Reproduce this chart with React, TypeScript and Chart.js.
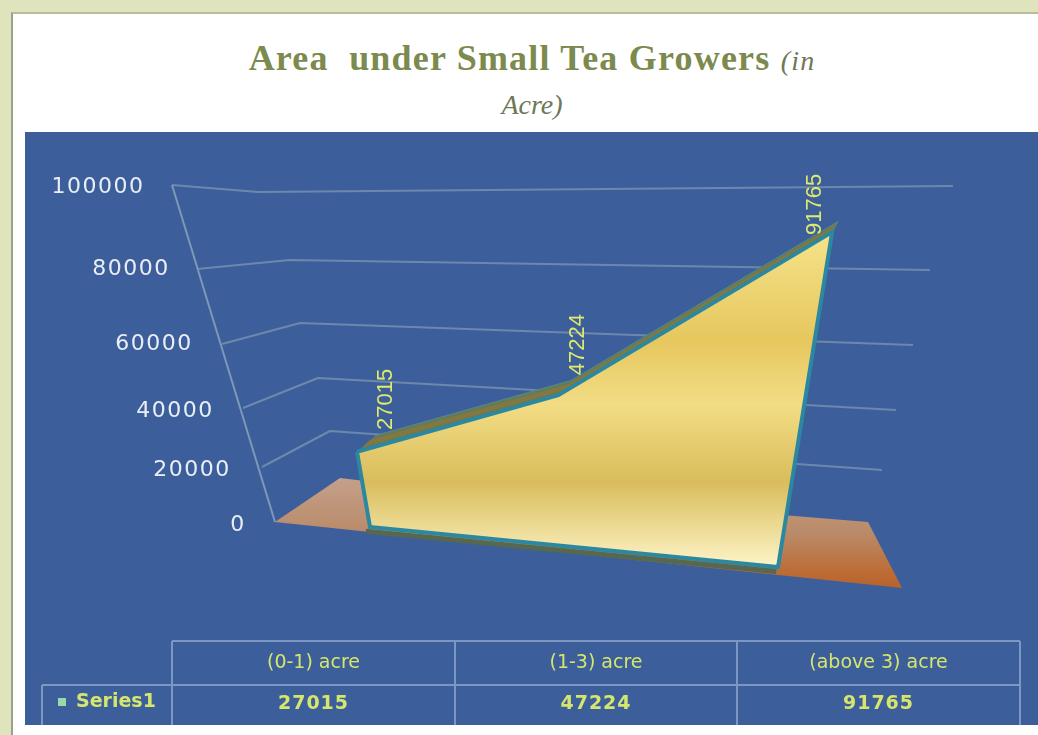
import React, { useEffect, useRef } from "react";
import { Chart, registerables } from "chart.js";

Chart.register(...registerables);

// ---- data ----
const categories = ["(0-1) acre", "(1-3) acre", "(above 3) acre"];
const seriesName = "Series1";
const seriesValues = [27015, 47224, 91765];
const yMax = 100000;
const yStep = 20000;

// ---- layout of the painted 3-D frame ----
const quad = { bl: [370, 527], br: [778, 567], tl: [322, 249], tr: [837, 202] };
const uWarp = 1.12;
const vanish = [1068, -190];
const depthK = 0.0253;
const frameByTick: Record<number, { label: [number, number]; line: number[][] }> = {
  0: { label: [238, 525], line: [[275, 522], [340, 478], [870, 524]] },
  20000: { label: [192, 470], line: [[262, 467], [330, 431], [882, 470]] },
  40000: { label: [175, 411], line: [[243, 408], [318, 378], [896, 410]] },
  60000: { label: [154, 344], line: [[222, 344], [300, 323], [913, 345]] },
  80000: { label: [131, 269], line: [[197, 269], [290, 260], [930, 270]] },
  100000: { label: [98, 187], line: [[172, 185], [258, 192], [953, 186]] },
};
const floorPoly = [[275, 522], [340, 478], [365, 481], [868, 522], [902, 588]];
const labelOffsets = [[29, -22], [20, -20], [-17, 3]];
const tableRows = [641, 685, 725];
const tableCols = [172, 455, 737, 1020];

const yellow = "#dfe96c";

type Pt = { x: string; y: number };
const topRun: Pt[] = categories.map((c, i) => ({ x: c, y: seriesValues[i] }));
const frontData: Pt[] = [
  ...topRun,
  { x: categories[2], y: 0 },
  { x: categories[0], y: 0 },
  topRun[0],
];
const stripData: Pt[] = [...topRun, ...[...topRun].reverse()];
const baseData: Pt[] = [{ x: categories[0], y: 0 }, { x: categories[2], y: 0 }];

const project = (u: number, v: number, z: number) => {
  const w = Math.pow(u, uWarp);
  const bx = quad.bl[0] + (quad.br[0] - quad.bl[0]) * w;
  const by = quad.bl[1] + (quad.br[1] - quad.bl[1]) * w;
  const tx = quad.tl[0] + (quad.tr[0] - quad.tl[0]) * w;
  const ty = quad.tl[1] + (quad.tr[1] - quad.tl[1]) * w;
  const x = bx + (tx - bx) * v;
  const y = by + (ty - by) * v;
  return { x: x + (vanish[0] - x) * z, y: y + (vanish[1] - y) * z };
};

const perspective = {
  id: "perspective",
  afterDatasetsUpdate(chart: any) {
    const xs = chart.scales.x;
    const ys = chart.scales.y;
    chart.data.datasets.forEach((ds: any, i: number) => {
      const meta = chart.getDatasetMeta(i);
      meta.data.forEach((el: any, j: number) => {
        const u = (el.x - xs.left) / xs.width;
        const v = (ys.bottom - el.y) / ys.height;
        const p = project(u, v, ds.depths ? ds.depths[j] : 0);
        el.x = p.x;
        el.y = p.y;
      });
    });
  },
};

const frame = {
  id: "frame",
  beforeDatasetsDraw(chart: any) {
    const ctx = chart.ctx;
    ctx.save();
    ctx.fillStyle = "#3c5f9b";
    ctx.fillRect(25, 132, 1013, 593);
    const ticks = chart.scales.y.ticks;
    ctx.lineWidth = 2;
    ctx.lineJoin = "round";
    ctx.strokeStyle = "#6d88ad";
    ticks.forEach((t: any) => {
      const f = frameByTick[t.value];
      if (!f || t.value === 0) return;
      ctx.beginPath();
      f.line.forEach((p, i) => (i ? ctx.lineTo(p[0], p[1]) : ctx.moveTo(p[0], p[1])));
      ctx.stroke();
    });
    const a = frameByTick[yMax].line[0];
    const b = frameByTick[0].line[0];
    ctx.strokeStyle = "#7f97b8";
    ctx.beginPath();
    ctx.moveTo(a[0], a[1]);
    ctx.lineTo(b[0], b[1]);
    ctx.stroke();

    const g = ctx.createLinearGradient(0, 478, 0, 590);
    g.addColorStop(0, "#c4a08a");
    g.addColorStop(0.5, "#b98a68");
    g.addColorStop(0.85, "#bd6b34");
    g.addColorStop(1, "#b5612c");
    ctx.fillStyle = g;
    ctx.beginPath();
    floorPoly.forEach((p, i) => (i ? ctx.lineTo(p[0], p[1]) : ctx.moveTo(p[0], p[1])));
    ctx.closePath();
    ctx.fill();
    ctx.restore();
  },
  afterDraw(chart: any) {
    const ctx = chart.ctx;
    ctx.save();
    ctx.textBaseline = "middle";
    // value axis labels
    ctx.font = '22px "DejaVu Sans"';
    ctx.letterSpacing = "1.5px";
    ctx.fillStyle = "#e9edf5";
    ctx.textAlign = "center";
    chart.scales.y.ticks.forEach((t: any) => {
      const f = frameByTick[t.value];
      if (f) ctx.fillText(t.label, f.label[0], f.label[1]);
    });
    ctx.letterSpacing = "0px";
    // rotated data labels, anchored to the drawn points
    const pts = chart.getDatasetMeta(chart.data.datasets.length - 1).data;
    ctx.font = '22px "Liberation Sans"';
    ctx.fillStyle = yellow;
    ctx.textAlign = "left";
    seriesValues.forEach((v, i) => {
      ctx.save();
      ctx.translate(pts[i].x + labelOffsets[i][0], pts[i].y + labelOffsets[i][1]);
      ctx.rotate(-Math.PI / 2);
      ctx.fillText(String(v), 0, 0);
      ctx.restore();
    });
    // data table
    ctx.strokeStyle = "#7c98c2";
    ctx.lineWidth = 2;
    ctx.beginPath();
    tableRows.slice(0, 2).forEach((y, r) => {
      ctx.moveTo(r ? 42 : tableCols[0], y);
      ctx.lineTo(tableCols[3], y);
    });
    tableCols.forEach((x) => {
      ctx.moveTo(x, tableRows[0]);
      ctx.lineTo(x, tableRows[2]);
    });
    ctx.moveTo(42, tableRows[1]);
    ctx.lineTo(42, tableRows[2]);
    ctx.stroke();
    ctx.fillStyle = "#d6e66c";
    ctx.textAlign = "center";
    categories.forEach((c, i) => {
      const cx = (tableCols[i] + tableCols[i + 1]) / 2;
      ctx.font = '19px "DejaVu Sans"';
      ctx.fillText(c, cx, (tableRows[0] + tableRows[1]) / 2);
      ctx.font = 'bold 19px "DejaVu Sans"';
      ctx.letterSpacing = "1px";
      ctx.fillText(String(seriesValues[i]), cx, (tableRows[1] + tableRows[2]) / 2 - 1);
      ctx.letterSpacing = "0px";
    });
    ctx.font = 'bold 19px "DejaVu Sans"';
    ctx.textAlign = "left";
    ctx.fillText(seriesName, 76, 702);
    ctx.fillStyle = "#9ad8a8";
    ctx.fillRect(58, 698, 8, 8);
    ctx.restore();
  },
};

export default function App() {
  const ref = useRef<HTMLCanvasElement>(null);
  useEffect(() => {
    document.body.style.margin = "0";
    const canvas = ref.current!;
    const ctx = canvas.getContext("2d")!;
    const gold = ctx.createLinearGradient(0, 228, 0, 567);
    gold.addColorStop(0, "#f6e48c");
    gold.addColorStop(0.33, "#e6c75e");
    gold.addColorStop(0.52, "#f2dc84");
    gold.addColorStop(0.75, "#d9bd5c");
    gold.addColorStop(1, "#fdf4c8");
    const chart = new Chart(canvas, {
      type: "line",
      plugins: [perspective, frame],
      data: {
        labels: categories,
        datasets: [
          {
            label: "top side",
            data: stripData,
            depths: [0, 0, 0, depthK, depthK, depthK],
            fill: "shape",
            backgroundColor: "#667a5a",
            borderColor: "#4f8a8a",
            borderWidth: 1,
            pointRadius: 0,
            order: 3,
            clip: false,
          },
          {
            label: "top side core",
            data: stripData,
            depths: [0.008, 0.008, 0.008, 0.018, 0.018, 0.018],
            fill: "shape",
            backgroundColor: "#84783f",
            borderWidth: 0,
            pointRadius: 0,
            order: 2,
            clip: false,
          },
          {
            label: "base edge",
            data: baseData,
            depths: [-0.006, -0.006],
            borderColor: "#56684f",
            borderWidth: 5,
            pointRadius: 0,
            fill: false,
            order: 1,
            clip: false,
          },
          {
            label: seriesName,
            data: frontData,
            fill: "shape",
            backgroundColor: gold,
            borderColor: "#2b88a0",
            borderWidth: 4,
            pointRadius: 0,
            order: 0,
            clip: false,
          },
        ],
      } as any,
      options: {
        responsive: false,
        animation: false,
        events: [],
        layout: { padding: 0 },
        plugins: { legend: { display: false }, tooltip: { enabled: false }, title: { display: false } },
        scales: {
          x: { type: "category", display: false, offset: false },
          y: {
            display: false,
            min: 0,
            max: yMax,
            ticks: { stepSize: yStep, callback: (v: any) => String(v) },
          },
        },
      },
    });
    return () => chart.destroy();
  }, []);

  return (
    <div style={{ position: "relative", width: 1038, height: 735, overflow: "hidden", background: "#dfe4bd", filter: "blur(0.7px)" }}>
      <div style={{ position: "absolute", left: 11, top: 12, right: 0, bottom: 0, background: "#fff", borderLeft: "2px solid #9aa08a", borderTop: "2px solid #b7bc9c" }} />
      <div style={{ position: "absolute", left: 0, right: 0, top: 36, textAlign: "center", paddingLeft: 26, fontFamily: '"Liberation Serif"', color: "#7c8a4e", lineHeight: "44px" }}>
        <div style={{ fontSize: 36, fontWeight: "bold", letterSpacing: "1.2px", whiteSpace: "pre" }}>
          Area  under Small Tea Growers <span style={{ fontSize: 28, fontWeight: "normal", fontStyle: "italic", color: "#6e7858" }}>(in</span>
        </div>
        <div style={{ fontSize: 28, fontStyle: "italic", color: "#6e7858" }}>Acre)</div>
      </div>
      <canvas ref={ref} width={1038} height={735} style={{ position: "absolute", left: 0, top: 0, width: 1038, height: 735 }} />
    </div>
  );
}
